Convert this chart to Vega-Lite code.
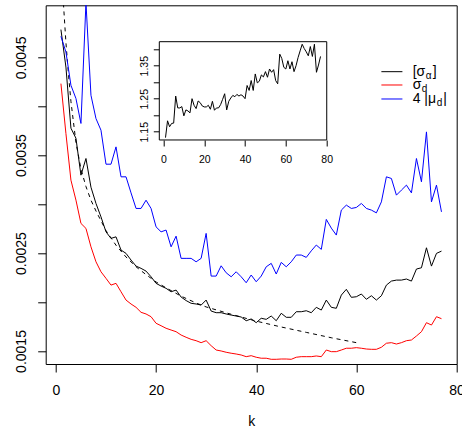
{
"$schema": "https://vega.github.io/schema/vega-lite/v6.json",
"width": 411, "height": 358.7,
"autosize": "none",
"padding": {"left": 45.7, "top": 5.3, "right": 5.3, "bottom": 70},
"config": {
  "view": {"stroke": "black", "strokeWidth": 1},
  "font": "Liberation Sans",
  "axis": {"labelColor": "black", "tickColor": "black", "titleColor": "black", "grid": false, "domain": false, "labelFont": "Liberation Sans", "titleFont": "Liberation Sans", "titleFontWeight": "normal", "tickWidth": 1, "labelOverlap": false, "labelFlush": false, "labelBound": false, "zindex": 1},
  "text": {"font": "Liberation Sans", "color": "black"}
},
"datasets": {
  "one": [{}],
  "main": [
    {"k":1,"b":0.004783,"r":0.004231,"u":0.004714},
    {"k":2,"b":0.0044,"r":0.003721,"u":0.004554},
    {"k":3,"b":0.003776,"r":0.003245,"u":0.004214},
    {"k":4,"b":0.003673,"r":0.003041,"u":0.004079},
    {"k":5,"b":0.003296,"r":0.002803,"u":0.003824},
    {"k":6,"b":0.003466,"r":0.002752,"u":0.00506},
    {"k":7,"b":0.003173,"r":0.002564,"u":0.004112},
    {"k":8,"b":0.003007,"r":0.002411,"u":0.003874},
    {"k":9,"b":0.00287,"r":0.002309,"u":0.003755},
    {"k":10,"b":0.002717,"r":0.002242,"u":0.003408},
    {"k":11,"b":0.00265,"r":0.002173,"u":0.003408},
    {"k":12,"b":0.002666,"r":0.002191,"u":0.003585},
    {"k":13,"b":0.002531,"r":0.002105,"u":0.003279},
    {"k":14,"b":0.002497,"r":0.00202,"u":0.003279},
    {"k":15,"b":0.002429,"r":0.00198,"u":0.003115},
    {"k":16,"b":0.002367,"r":0.001946,"u":0.002956},
    {"k":17,"b":0.002344,"r":0.001895,"u":0.002956},
    {"k":18,"b":0.002316,"r":0.001878,"u":0.00304},
    {"k":19,"b":0.002258,"r":0.00185,"u":0.002956},
    {"k":20,"b":0.002191,"r":0.001783,"u":0.002768},
    {"k":21,"b":0.002163,"r":0.001758,"u":0.002717},
    {"k":22,"b":0.00214,"r":0.001732,"u":0.002735},
    {"k":23,"b":0.002105,"r":0.001714,"u":0.002564},
    {"k":24,"b":0.002122,"r":0.001697,"u":0.002673},
    {"k":25,"b":0.002051,"r":0.001663,"u":0.002446},
    {"k":26,"b":0.002015,"r":0.00164,"u":0.002446},
    {"k":27,"b":0.001987,"r":0.001619,"u":0.002446},
    {"k":28,"b":0.00198,"r":0.001605,"u":0.002411},
    {"k":29,"b":0.001969,"r":0.001585,"u":0.002446},
    {"k":30,"b":0.00202,"r":0.001605,"u":0.002701},
    {"k":31,"b":0.001908,"r":0.001554,"u":0.002265},
    {"k":32,"b":0.001891,"r":0.00151,"u":0.002265},
    {"k":33,"b":0.001891,"r":0.0015,"u":0.00237},
    {"k":34,"b":0.001878,"r":0.001487,"u":0.002299},
    {"k":35,"b":0.001867,"r":0.001477,"u":0.002258},
    {"k":36,"b":0.001857,"r":0.001469,"u":0.002309},
    {"k":37,"b":0.001847,"r":0.001459,"u":0.002258},
    {"k":38,"b":0.001809,"r":0.001442,"u":0.002197},
    {"k":39,"b":0.001827,"r":0.001452,"u":0.002276},
    {"k":40,"b":0.001789,"r":0.001436,"u":0.002207},
    {"k":41,"b":0.001834,"r":0.001426,"u":0.002265},
    {"k":42,"b":0.001823,"r":0.001426,"u":0.00236},
    {"k":43,"b":0.001857,"r":0.001415,"u":0.002395},
    {"k":44,"b":0.001809,"r":0.001415,"u":0.002286},
    {"k":45,"b":0.001885,"r":0.001418,"u":0.002405},
    {"k":46,"b":0.001844,"r":0.001418,"u":0.00236},
    {"k":47,"b":0.001844,"r":0.001415,"u":0.002411},
    {"k":48,"b":0.001901,"r":0.001436,"u":0.00248},
    {"k":49,"b":0.001901,"r":0.001442,"u":0.00248},
    {"k":50,"b":0.001911,"r":0.001442,"u":0.002456},
    {"k":51,"b":0.001891,"r":0.001442,"u":0.002523},
    {"k":52,"b":0.001946,"r":0.001449,"u":0.002582},
    {"k":53,"b":0.001918,"r":0.001442,"u":0.002538},
    {"k":54,"b":0.00202,"r":0.00151,"u":0.002844},
    {"k":55,"b":0.001946,"r":0.001493,"u":0.002755},
    {"k":56,"b":0.001936,"r":0.001493,"u":0.002684},
    {"k":57,"b":0.002071,"r":0.00151,"u":0.002939},
    {"k":58,"b":0.00213,"r":0.001528,"u":0.00299},
    {"k":59,"b":0.002048,"r":0.001528,"u":0.002956},
    {"k":60,"b":0.002054,"r":0.001534,"u":0.002966},
    {"k":61,"b":0.002082,"r":0.001528,"u":0.003007},
    {"k":62,"b":0.002028,"r":0.00152,"u":0.002956},
    {"k":63,"b":0.002064,"r":0.001517,"u":0.002939},
    {"k":64,"b":0.00202,"r":0.001517,"u":0.002911},
    {"k":65,"b":0.002064,"r":0.001538,"u":0.003023},
    {"k":66,"b":0.002173,"r":0.001579,"u":0.003279},
    {"k":67,"b":0.002214,"r":0.001585,"u":0.003262},
    {"k":68,"b":0.002224,"r":0.001571,"u":0.003092},
    {"k":69,"b":0.002224,"r":0.001585,"u":0.003143},
    {"k":70,"b":0.002235,"r":0.001605,"u":0.003194},
    {"k":71,"b":0.002214,"r":0.001612,"u":0.003115},
    {"k":72,"b":0.002337,"r":0.001653,"u":0.003466},
    {"k":73,"b":0.00235,"r":0.001697,"u":0.003228},
    {"k":74,"b":0.002554,"r":0.001789,"u":0.003738},
    {"k":75,"b":0.002367,"r":0.001765,"u":0.003023},
    {"k":76,"b":0.002497,"r":0.00185,"u":0.003194},
    {"k":77,"b":0.00252,"r":0.00183,"u":0.002921}
  ],
  "dash": [
    {"k":1.5,"v":0.00505},{"k":2,"v":0.00465},{"k":2.5,"v":0.00433},{"k":3,"v":0.00405},
    {"k":4,"v":0.00363},{"k":5,"v":0.00336},{"k":6,"v":0.00318},{"k":7,"v":0.00304},
    {"k":8,"v":0.00293},{"k":10,"v":0.00273},{"k":12,"v":0.00258},{"k":14,"v":0.00246},
    {"k":16,"v":0.00236},{"k":18,"v":0.00228},{"k":20,"v":0.002205},{"k":22,"v":0.002145},
    {"k":25,"v":0.00206},{"k":28,"v":0.00199},{"k":30,"v":0.00195},{"k":35,"v":0.001875},
    {"k":40,"v":0.001805},{"k":45,"v":0.001745},{"k":50,"v":0.00169},{"k":55,"v":0.001635},
    {"k":60,"v":0.001585}
  ],
  "ratio": [
    {"k":1,"v":1.132},{"k":2,"v":1.183},{"k":3,"v":1.165},{"k":4,"v":1.175},{"k":5,"v":1.176},
    {"k":6,"v":1.258},{"k":7,"v":1.222},{"k":8,"v":1.222},{"k":9,"v":1.226},{"k":10,"v":1.198},
    {"k":11,"v":1.216},{"k":12,"v":1.213},{"k":13,"v":1.207},{"k":14,"v":1.25},{"k":15,"v":1.23},
    {"k":16,"v":1.22},{"k":17,"v":1.243},{"k":18,"v":1.238},{"k":19,"v":1.228},{"k":20,"v":1.225},
    {"k":21,"v":1.225},{"k":22,"v":1.23},{"k":23,"v":1.218},{"k":24,"v":1.242},{"k":25,"v":1.215},
    {"k":26,"v":1.222},{"k":27,"v":1.222},{"k":28,"v":1.232},{"k":29,"v":1.248},{"k":30,"v":1.265},
    {"k":31,"v":1.216},{"k":32,"v":1.242},{"k":33,"v":1.252},{"k":34,"v":1.26},{"k":35,"v":1.256},
    {"k":36,"v":1.263},{"k":37,"v":1.258},{"k":38,"v":1.262},{"k":39,"v":1.258},{"k":40,"v":1.25},
    {"k":41,"v":1.29},{"k":42,"v":1.275},{"k":43,"v":1.305},{"k":44,"v":1.275},{"k":45,"v":1.325},
    {"k":46,"v":1.298},{"k":47,"v":1.303},{"k":48,"v":1.322},{"k":49,"v":1.316},{"k":50,"v":1.332},
    {"k":51,"v":1.315},{"k":52,"v":1.34},{"k":53,"v":1.33},{"k":54,"v":1.338},{"k":55,"v":1.305},
    {"k":56,"v":1.295},{"k":57,"v":1.385},{"k":58,"v":1.372},{"k":59,"v":1.345},{"k":60,"v":1.34},
    {"k":61,"v":1.365},{"k":62,"v":1.34},{"k":63,"v":1.362},{"k":64,"v":1.332},{"k":65,"v":1.35},
    {"k":66,"v":1.375},{"k":67,"v":1.395},{"k":68,"v":1.415},{"k":69,"v":1.402},{"k":70,"v":1.392},
    {"k":71,"v":1.38},{"k":72,"v":1.408},{"k":73,"v":1.378},{"k":74,"v":1.415},{"k":75,"v":1.33},
    {"k":76,"v":1.352},{"k":77,"v":1.378}
  ]
},
"layer": [
  {
    "layer": [
      {
        "data": {"name": "dash"},
        "mark": {"type": "line", "color": "black", "strokeWidth": 1, "strokeDash": [4, 4], "clip": true},
        "encoding": {
          "x": {"field": "k", "type": "quantitative", "title": "k",
                "scale": {"domain": [-2.04, 80.04], "nice": false, "zero": false},
                "axis": {"orient": "bottom", "values": [0, 20, 40, 60, 80], "tickSize": 8, "labelPadding": 11, "labelFontSize": 14, "titleFontSize": 14, "titlePadding": 17}},
          "y": {"field": "v", "type": "quantitative", "title": null,
                "scale": {"domain": [0.001367, 0.005031], "nice": false, "zero": false},
                "axis": {"orient": "left", "values": [0.0015, 0.002, 0.0025, 0.003, 0.0035, 0.004, 0.0045], "format": ".4f",
                         "labelExpr": "indexof(['0.0015','0.0025','0.0035','0.0045'], datum.label) >= 0 ? datum.label : ''",
                         "tickSize": 8, "labelPadding": 12.7, "labelFontSize": 14, "labelAngle": -90, "labelAlign": "center", "labelBaseline": "alphabetic"}}
        }
      },
      {
        "data": {"name": "main"},
        "mark": {"type": "line", "color": "black", "strokeWidth": 1, "clip": true},
        "encoding": {
          "x": {"field": "k", "type": "quantitative", "title": "k"},
          "y": {"field": "b", "type": "quantitative", "title": null}
        }
      },
      {
        "data": {"name": "main"},
        "mark": {"type": "line", "color": "#FF0000", "strokeWidth": 1, "clip": true},
        "encoding": {
          "x": {"field": "k", "type": "quantitative", "title": "k"},
          "y": {"field": "r", "type": "quantitative", "title": null}
        }
      },
      {
        "data": {"name": "main"},
        "mark": {"type": "line", "color": "#0000FF", "strokeWidth": 1, "clip": true},
        "encoding": {
          "x": {"field": "k", "type": "quantitative", "title": "k"},
          "y": {"field": "u", "type": "quantitative", "title": null}
        }
      },
      {
        "data": {"name": "one"},
        "mark": {"type": "rule", "color": "black", "strokeWidth": 1},
        "encoding": {"x": {"datum": 65.0}, "x2": {"datum": 69.2}, "y": {"datum": 0.004353}}
      },
      {
        "data": {"name": "one"},
        "mark": {"type": "rule", "color": "#FF0000", "strokeWidth": 1},
        "encoding": {"x": {"datum": 65.0}, "x2": {"datum": 69.2}, "y": {"datum": 0.004217}}
      },
      {
        "data": {"name": "one"},
        "mark": {"type": "rule", "color": "#0000FF", "strokeWidth": 1},
        "encoding": {"x": {"datum": 65.0}, "x2": {"datum": 69.2}, "y": {"datum": 0.004074}}
      },
      {
        "data": {"name": "one"},
        "mark": {"type": "text", "text": "[σ", "align": "left", "baseline": "middle", "fontSize": 14},
        "encoding": {"x": {"datum": 71.25}, "y": {"datum": 0.004353}}
      },
      {
        "data": {"name": "one"},
        "mark": {"type": "text", "text": "α", "align": "left", "baseline": "middle", "fontSize": 10, "dx": 13, "dy": 4},
        "encoding": {"x": {"datum": 71.25}, "y": {"datum": 0.004353}}
      },
      {
        "data": {"name": "one"},
        "mark": {"type": "text", "text": "]", "align": "left", "baseline": "middle", "fontSize": 14, "dx": 20},
        "encoding": {"x": {"datum": 71.25}, "y": {"datum": 0.004353}}
      },
      {
        "data": {"name": "one"},
        "mark": {"type": "text", "text": "σ", "align": "left", "baseline": "middle", "fontSize": 14},
        "encoding": {"x": {"datum": 71.25}, "y": {"datum": 0.004217}}
      },
      {
        "data": {"name": "one"},
        "mark": {"type": "text", "text": "d", "align": "left", "baseline": "middle", "fontSize": 10, "dx": 9, "dy": 4},
        "encoding": {"x": {"datum": 71.25}, "y": {"datum": 0.004217}}
      },
      {
        "data": {"name": "one"},
        "mark": {"type": "text", "text": "4 |μ", "align": "left", "baseline": "middle", "fontSize": 14},
        "encoding": {"x": {"datum": 71.25}, "y": {"datum": 0.004074}}
      },
      {
        "data": {"name": "one"},
        "mark": {"type": "text", "text": "d", "align": "left", "baseline": "middle", "fontSize": 10, "dx": 24, "dy": 4},
        "encoding": {"x": {"datum": 71.25}, "y": {"datum": 0.004074}}
      },
      {
        "data": {"name": "one"},
        "mark": {"type": "text", "text": "|", "align": "left", "baseline": "middle", "fontSize": 14, "dx": 30.5},
        "encoding": {"x": {"datum": 71.25}, "y": {"datum": 0.004074}}
      }
    ]
  },
  {
    "layer": [
      {
        "data": {"name": "one"},
        "mark": {"type": "rect", "fill": "white", "stroke": "black", "strokeWidth": 1},
        "encoding": {
          "x": {"datum": -2.04, "type": "quantitative",
                "scale": {"domain": [-57.73, 143.75], "nice": false, "zero": false},
                "axis": {"orient": "bottom", "offset": -224, "values": [0, 20, 40, 60, 80], "tickSize": 6, "labelPadding": 8, "labelFontSize": 10.5, "title": null}},
          "x2": {"datum": 80.04},
          "y": {"datum": 1.1249, "type": "quantitative",
                "scale": {"domain": [0.446, 1.533], "nice": false, "zero": false},
                "axis": {"orient": "left", "offset": -113.6, "values": [1.15, 1.2, 1.25, 1.3, 1.35, 1.4], "format": ".2f",
                         "labelExpr": "indexof(['1.15','1.25','1.35'], datum.label) >= 0 ? datum.label : ''",
                         "tickSize": 6, "labelPadding": 6, "labelFontSize": 10.5, "labelAngle": -90, "labelAlign": "center", "labelBaseline": "alphabetic", "title": null}},
          "y2": {"datum": 1.4227}
        }
      },
      {
        "data": {"name": "ratio"},
        "mark": {"type": "line", "color": "black", "strokeWidth": 1},
        "encoding": {
          "x": {"field": "k", "type": "quantitative", "title": null},
          "y": {"field": "v", "type": "quantitative", "title": null}
        }
      }
    ]
  }
],
"resolve": {"scale": {"x": "independent", "y": "independent"}, "axis": {"x": "independent", "y": "independent"}}
}
